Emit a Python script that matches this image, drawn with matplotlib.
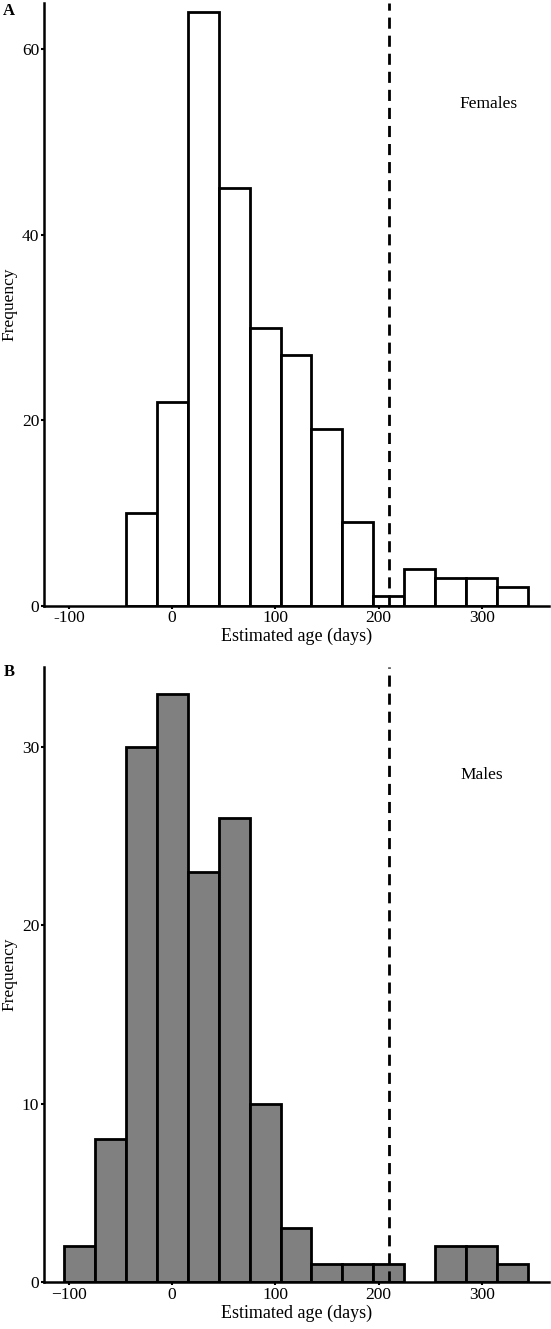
import matplotlib
matplotlib.use("Agg")
import matplotlib.pyplot as plt
from matplotlib.ticker import FuncFormatter
import numpy as np

plt.rcParams['font.family'] = ['Liberation Serif', 'DejaVu Serif']

# Histogram data (bin width 30 days)
female_left_edges = [-45, -15, 15, 45, 75, 105, 135, 165, 195, 225, 255, 285, 315]
female_counts = [10, 22, 64, 45, 30, 27, 19, 9, 1, 4, 3, 3, 2]

male_left_edges = [-105, -75, -45, -15, 15, 45, 75, 105, 135, 165, 195, 255, 285, 315]
male_counts = [2, 8, 30, 33, 23, 26, 10, 3, 1, 1, 1, 2, 2, 1]

bin_width = 30
cutoff_age = 210
x_ticks = [-100, 0, 100, 200, 300]
female_yticks = [0, 20, 40, 60]
male_yticks = [0, 10, 20, 30]


def style_axis(ax, yticks, ymax):
    ax.set_xlim(-124, 365)
    ax.set_ylim(0, ymax)
    ax.set_xticks(x_ticks)
    ax.set_yticks(yticks)
    for side in ['top', 'right']:
        ax.spines[side].set_visible(False)
    for side in ['left', 'bottom']:
        ax.spines[side].set_linewidth(1.8)
    ax.tick_params(direction='out', length=2.5, width=1.5, labelsize=12.5, pad=1)
    ax.set_xlabel('Estimated age (days)', fontsize=13, labelpad=1)
    ax.set_ylabel('Frequency', fontsize=12.5, va='center')
    ax.yaxis.set_label_coords(-0.068, 0.5)
    ax.axvline(cutoff_age, color='black', lw=2.0, linestyle=(0, (4, 2.5)), zorder=3)


fig = plt.figure(figsize=(5.51, 13.29), dpi=100)

# Panel A: females
ax1 = fig.add_axes([0.0799, 0.5443, 0.9165, 0.4534])
ax1.bar(female_left_edges, female_counts, width=bin_width, align='edge',
        facecolor='white', edgecolor='black', linewidth=2.0)
style_axis(ax1, female_yticks, 65)
ax1.xaxis.set_major_formatter(FuncFormatter(lambda v, p: f"{v:.0f}"))
ax1.text(0.881, 0.832, 'Females', transform=ax1.transAxes, fontsize=12.5,
         ha='center', va='center')
fig.text(0.006, 0.992, 'A', fontsize=12, fontweight='bold', ha='left', va='center')

# Panel B: males
ax2 = fig.add_axes([0.0799, 0.0354, 0.9165, 0.4629])
ax2.bar(male_left_edges, male_counts, width=bin_width, align='edge',
        facecolor='#808080', edgecolor='black', linewidth=2.0)
style_axis(ax2, male_yticks, 34.5)
ax2.text(0.867, 0.824, 'Males', transform=ax2.transAxes, fontsize=12.5,
         ha='center', va='center')
fig.text(0.006, 0.4945, 'B', fontsize=12, fontweight='bold', ha='left', va='center')

fig.savefig('out.png', dpi=100)
